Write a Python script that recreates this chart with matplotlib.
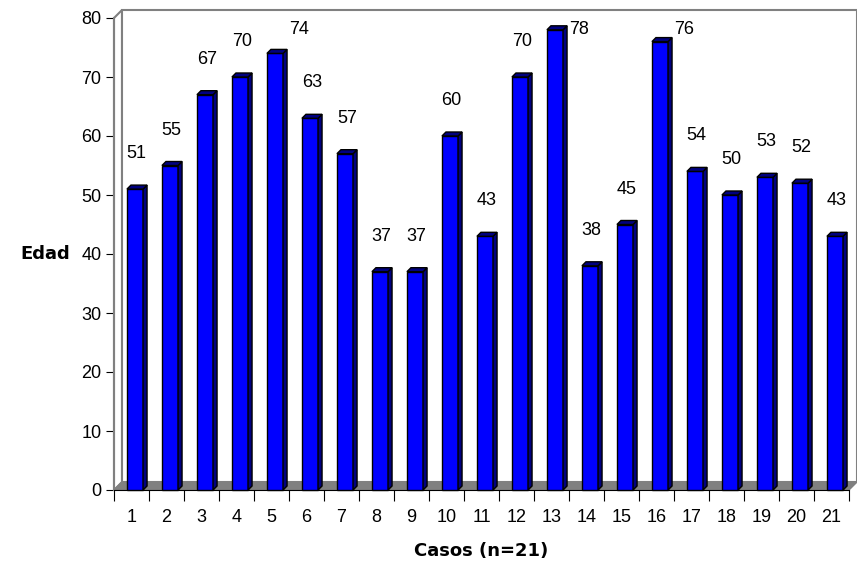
import matplotlib
matplotlib.use("Agg")
from matplotlib import pyplot as plt
from matplotlib.patches import Polygon

# datos: edad por caso
casos = [str(i) for i in range(1, 22)]
edad = [51, 55, 67, 70, 74, 63, 57, 37, 37, 60, 43, 70, 78, 38, 45, 76, 54, 50, 53, 52, 43]

plt.rcParams['font.family'] = ['Liberation Sans', 'DejaVu Sans']

fig = plt.figure(figsize=(8.57, 5.70), dpi=100)
ax = fig.add_axes([114 / 857, 80 / 570, 735 / 857, 472 / 570])
n = len(casos)
ax.set_xlim(0, n)
ax.set_ylim(0, 80)

# profundidad del fondo (en unidades de datos)
px_x = n / 735.0
px_y = 80 / 472.0
wx, wy = 8 * px_x, 8 * px_y
bx, by = 4 * px_x, 4 * px_y

# pared lateral, pared del fondo y suelo
ax.add_patch(Polygon([(0, 0), (0, 80), (wx, 80 + wy), (wx, wy)], closed=True,
                     facecolor="white", edgecolor="#808080", lw=1.5, clip_on=False, zorder=0))
ax.add_patch(Polygon([(wx, wy), (wx, 80 + wy), (n + wx, 80 + wy), (n + wx, wy)], closed=True,
                     facecolor="white", edgecolor="#808080", lw=1.5, clip_on=False, zorder=0))
ax.add_patch(Polygon([(0, 0), (n, 0), (n + wx, wy), (wx, wy)], closed=True,
                     facecolor="#808080", edgecolor="#808080", lw=1, clip_on=False, zorder=1))

# barras con efecto 3D
for i, v in enumerate(edad):
    x0 = i + 0.37
    x1 = i + 0.83
    ax.add_patch(Polygon([(x0, 0), (x1, 0), (x1, v), (x0, v)], closed=True,
                         facecolor="#0000FF", edgecolor="black", lw=1, zorder=3, clip_on=False))
    ax.add_patch(Polygon([(x1, 0), (x1 + bx, by), (x1 + bx, v + by), (x1, v)], closed=True,
                         facecolor="#000080", edgecolor="black", lw=1, zorder=3, clip_on=False))
    ax.add_patch(Polygon([(x0, v), (x0 + bx, v + by), (x1 + bx, v + by), (x1, v)], closed=True,
                         facecolor="#000080", edgecolor="black", lw=1, zorder=3, clip_on=False))
    if v + 6 > 78:
        # etiqueta al lado de la barra cuando no cabe encima
        ax.text(x1 + bx + 0.06, 78, str(v), ha="left", va="center", fontsize=13, zorder=4)
    else:
        ax.text((x0 + x1) / 2 + 0.05, v + 6, str(v), ha="center", va="center", fontsize=13, zorder=4)

# ejes
for s in ["top", "right"]:
    ax.spines[s].set_visible(False)
ax.spines["left"].set_color("#808080")
ax.spines["left"].set_linewidth(1.5)
ax.spines["bottom"].set_color("black")
ax.spines["left"].set_zorder(2)
ax.spines["bottom"].set_zorder(2)

ax.set_yticks(range(0, 81, 10))
ax.tick_params(axis="y", length=6, labelsize=13, pad=3)
ax.set_xticks(range(0, n + 1))
ax.set_xticklabels([])
ax.set_xticks([i + 0.5 for i in range(n)], minor=True)
ax.set_xticklabels(casos, minor=True)
ax.tick_params(axis="x", which="major", length=8)
ax.tick_params(axis="x", which="minor", length=0, labelsize=13, pad=14)

ax.set_xlabel("Casos (n=21)", family="DejaVu Sans", fontweight="bold", fontsize=13, labelpad=11)
ax.set_ylabel("Edad", family="DejaVu Sans", fontweight="bold", fontsize=13, rotation=0,
              labelpad=26, va="center")

fig.savefig("out.png", dpi=100)
